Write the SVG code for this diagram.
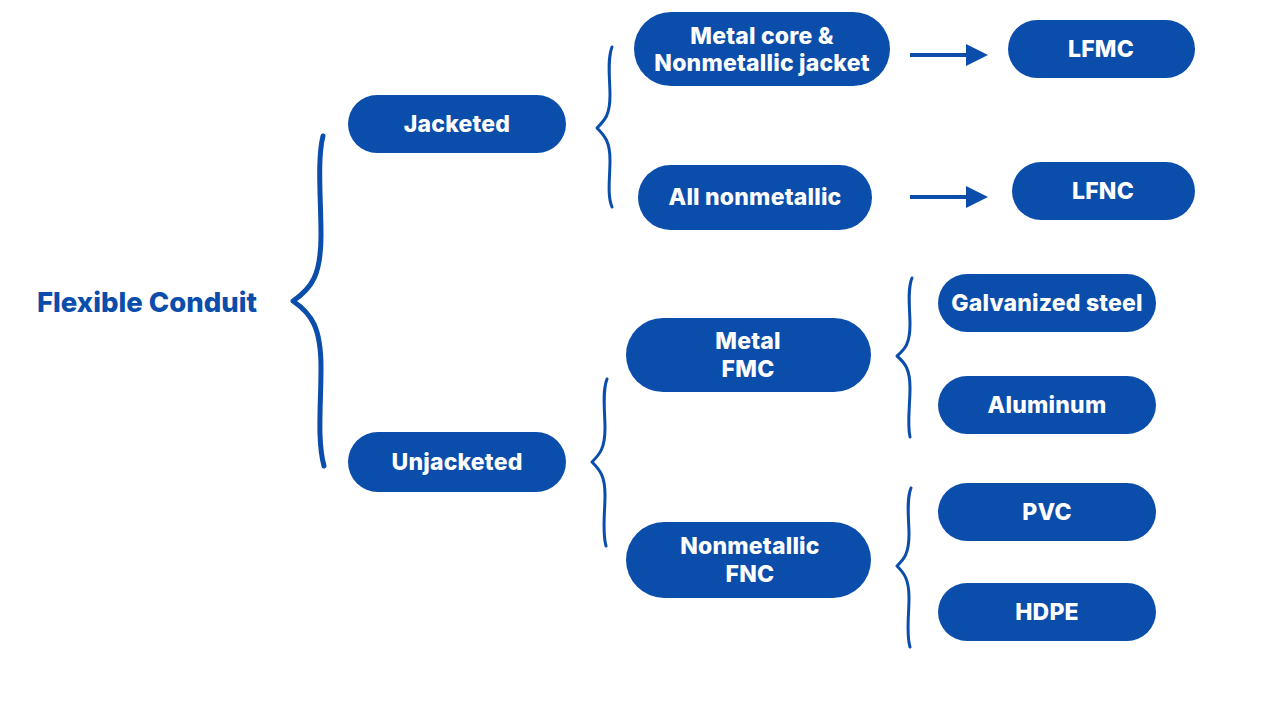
<svg xmlns="http://www.w3.org/2000/svg" width="1267" height="713" viewBox="0 0 1267 713">
<style>
.pill{fill:#0b4dab}
.t{fill:#fff;font-family:Inter,"Noto Sans",sans-serif;font-weight:800;font-size:23px;text-anchor:middle;dominant-baseline:central;letter-spacing:0.2px}
.br{fill:none;stroke:#0b4dab;stroke-linecap:round;stroke-linejoin:round}
.ar{stroke:#0b4dab;stroke-width:4;fill:none}
</style>
<defs>
<marker id="ah" viewBox="0 0 10 10" refX="0" refY="5" markerWidth="5.5" markerHeight="6.5" markerUnits="strokeWidth" orient="auto"><path d="M0,0 L10,5 L0,10 Z" fill="#0b4dab"/></marker>
</defs>
<rect width="1267" height="713" fill="#fff"/>
<g id="root"><text x="147" y="302" style="fill:#0b4dab;font-family:Inter,'Noto Sans',sans-serif;font-weight:800;font-size:27.5px;text-anchor:middle;dominant-baseline:central">Flexible Conduit</text></g>
<g id="connectors">
<path class="br" stroke-width="5" d="M323,136 C317,160 321,200 321,235 C321,275 312,288 293,301 C312,314 321,328 321,368 C321,405 317,440 324,466"/>
<path class="br" stroke-width="3" d="M612,47 C607,60 610,80 610,95 C610,115 605,120 597,128 C605,136 610,142 610,160 C610,178 607,195 612,207"/>
<path class="br" stroke-width="3" d="M607,379 C602,392 605,412 605,428 C605,448 600,454 592,462 C600,470 605,476 605,495 C605,513 602,532 606,546"/>
<path class="br" stroke-width="3" d="M912,278 C907,290 910,310 910,324 C910,344 905,349 897,356 C905,363 910,369 910,388 C910,406 907,424 910,437"/>
<path class="br" stroke-width="3" d="M911,488 C906,500 909,520 909,534 C909,554 904,559 897,566 C904,573 909,579 909,598 C909,616 906,634 910,647"/>
<path class="ar" d="M910,55 H966" marker-end="url(#ah)"/>
<path class="ar" d="M910,197 H966" marker-end="url(#ah)"/>
</g>
<g id="jacketed"><rect class="pill" x="348" y="95" width="218" height="58" rx="29"/><text class="t" x="457" y="124">Jacketed</text></g>
<g id="unjacketed"><rect class="pill" x="348" y="432" width="218" height="60" rx="30"/><text class="t" x="457" y="462">Unjacketed</text></g>
<g id="metalcore"><rect class="pill" x="634" y="12" width="256" height="74" rx="37"/><text class="t" x="762" y="36">Metal core &amp;</text><text class="t" x="762" y="63">Nonmetallic jacket</text></g>
<g id="allnonmetallic"><rect class="pill" x="638" y="165" width="234" height="65" rx="32.5"/><text class="t" x="755" y="197">All nonmetallic</text></g>
<g id="lfmc"><rect class="pill" x="1008" y="20" width="187" height="58" rx="29"/><text class="t" x="1101" y="49">LFMC</text></g>
<g id="lfnc"><rect class="pill" x="1012" y="162" width="183" height="58" rx="29"/><text class="t" x="1103" y="191">LFNC</text></g>
<g id="metalfmc"><rect class="pill" x="626" y="318" width="245" height="74" rx="37"/><text class="t" x="748" y="341">Metal</text><text class="t" x="748" y="369">FMC</text></g>
<g id="nonmetallicfnc"><rect class="pill" x="626" y="522" width="245" height="76" rx="38"/><text class="t" x="750" y="546">Nonmetallic</text><text class="t" x="750" y="574">FNC</text></g>
<g id="galvanized"><rect class="pill" x="938" y="274" width="218" height="58" rx="29"/><text class="t" x="1047" y="303">Galvanized steel</text></g>
<g id="aluminum"><rect class="pill" x="938" y="376" width="218" height="58" rx="29"/><text class="t" x="1047" y="405">Aluminum</text></g>
<g id="pvc"><rect class="pill" x="938" y="483" width="218" height="58" rx="29"/><text class="t" x="1047" y="512">PVC</text></g>
<g id="hdpe"><rect class="pill" x="938" y="583" width="218" height="58" rx="29"/><text class="t" x="1047" y="612">HDPE</text></g>
</svg>
